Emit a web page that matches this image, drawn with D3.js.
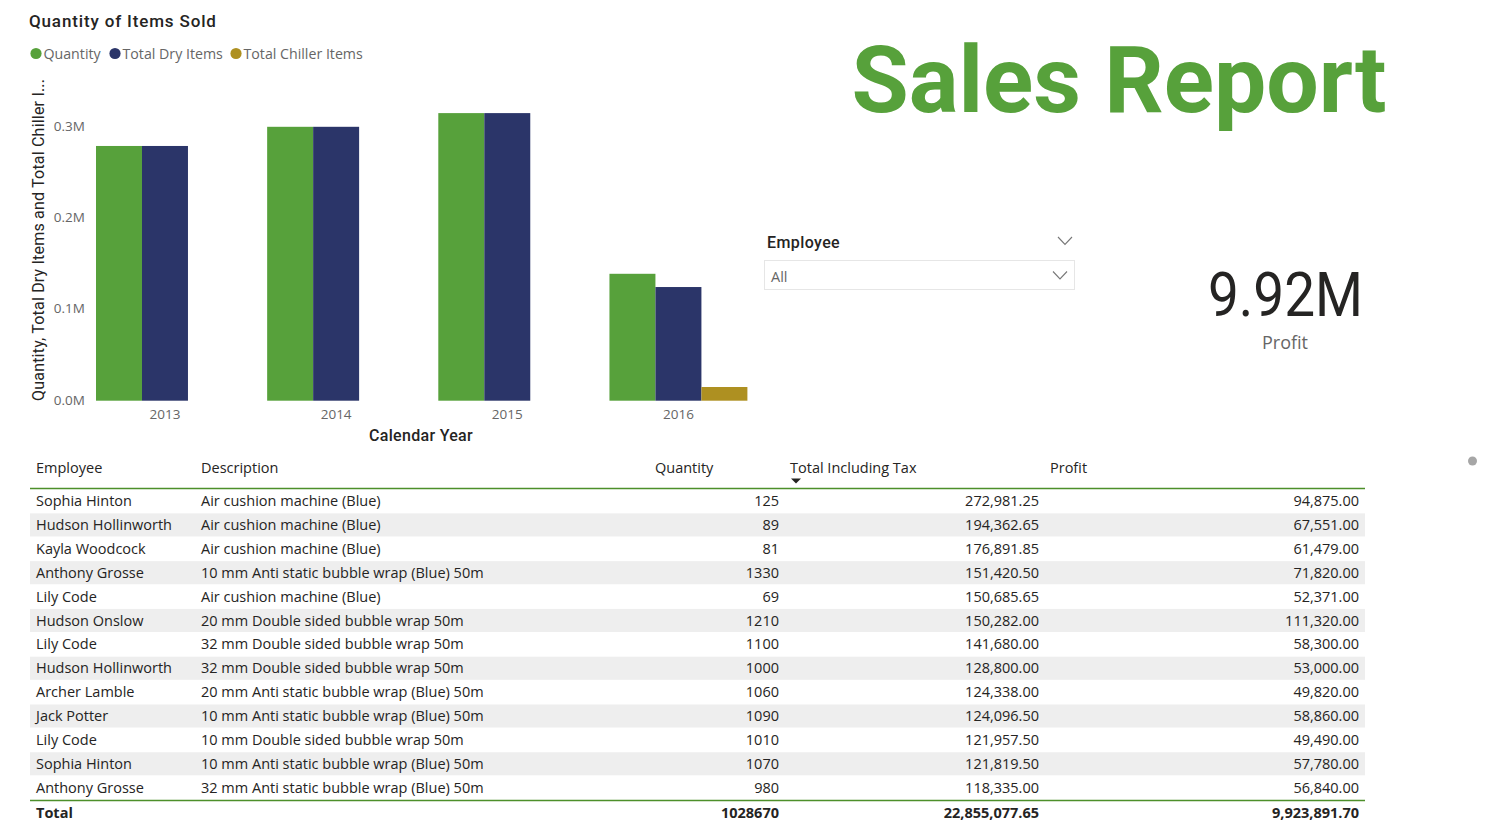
<!DOCTYPE html>
<html>
<head>
<meta charset="utf-8">
<script src="https://cdn.jsdelivr.net/npm/d3@7"></script>
<style>
    html, body { margin: 0; padding: 0; background: #fff; overflow: hidden; }
    svg { display: block; }
    text { font-family: "Open Sans", "Noto Sans", sans-serif; }
    .din { font-family: Roboto, "Noto Sans", sans-serif; }
</style>
</head>
<body>
<div id="report"></div>
<script>
// chart data
const years = ['2013', '2014', '2015', '2016'];
const seriesNames = ['Quantity', 'Total Dry Items', 'Total Chiller Items'];
const quantity = [279000, 300000, 315000, 139000];
const totalDry = [279000, 300000, 315000, 124500];
const totalChiller = [0, 0, 0, 15000];
const yTicks = [0, 100000, 200000, 300000];

// table data
const columns = ['Employee', 'Description', 'Quantity', 'Total Including Tax', 'Profit'];
const employees = ['Sophia Hinton', 'Hudson Hollinworth', 'Kayla Woodcock', 'Anthony Grosse', 'Lily Code', 'Hudson Onslow', 'Lily Code', 'Hudson Hollinworth', 'Archer Lamble', 'Jack Potter', 'Lily Code', 'Sophia Hinton', 'Anthony Grosse'];
const descriptions = ['Air cushion machine (Blue)', 'Air cushion machine (Blue)', 'Air cushion machine (Blue)', '10 mm Anti static bubble wrap (Blue) 50m', 'Air cushion machine (Blue)', '20 mm Double sided bubble wrap 50m', '32 mm Double sided bubble wrap 50m', '32 mm Double sided bubble wrap 50m', '20 mm Anti static bubble wrap (Blue) 50m', '10 mm Anti static bubble wrap (Blue) 50m', '10 mm Double sided bubble wrap 50m', '10 mm Anti static bubble wrap (Blue) 50m', '32 mm Anti static bubble wrap (Blue) 50m'];
const quantities = [125, 89, 81, 1330, 69, 1210, 1100, 1000, 1060, 1090, 1010, 1070, 980];
const totals = [272981.25, 194362.65, 176891.85, 151420.50, 150685.65, 150282.00, 141680.00, 128800.00, 124338.00, 124096.50, 121957.50, 121819.50, 118335.00];
const profits = [94875, 67551, 61479, 71820, 52371, 111320, 58300, 53000, 49820, 58860, 49490, 57780, 56840];
const grandTotal = ['Total', '1028670', '22,855,077.65', '9,923,891.70'];

const colors = ['#57a13b', '#2b3569', '#ae9021'];
const grey = '#666666';
const dark = '#252423';

const svg = d3.select('#report').append('svg')
    .attr('width', 1510)
    .attr('height', 831);

function drawChart() {
    const seriesValues = [quantity, totalDry, totalChiller];
    const xScale = d3.scaleBand()
        .domain(years)
        .range([79.4, 764])
        .paddingInner(0.194)
        .paddingOuter(0.097);
    const seriesScale = d3.scaleBand()
        .domain(seriesNames)
        .range([0, xScale.bandwidth()]);
    const yScale = d3.scaleLinear()
        .domain([0, 300000])
        .range([400.7, 126.8]);

    svg.append('text')
        .attr('class', 'din')
        .attr('x', 29)
        .attr('y', 27)
        .attr('font-size', 17)
        .attr('font-weight', 500)
        .attr('letter-spacing', 0.85)
        .attr('fill', dark)
        .text('Quantity of Items Sold');

    // legend
    const legendX = [36, 115, 236];
    seriesNames.forEach((name, i) => {
        svg.append('circle')
            .attr('cx', legendX[i])
            .attr('cy', 53.5)
            .attr('r', 5.6)
            .attr('fill', colors[i]);
        svg.append('text')
            .attr('x', legendX[i] + 7.5)
            .attr('y', 59)
            .attr('font-size', 14.2)
            .attr('fill', grey)
            .text(name);
    });

    // y axis
    const yAxis = d3.axisLeft(yScale)
        .tickValues(yTicks)
        .tickSize(0)
        .tickPadding(0)
        .tickFormat((d) => `${(d / 1000000).toFixed(1)}M`);
    const yG = svg.append('g')
        .attr('transform', 'translate(85,-1)')
        .call(yAxis);
    yG.select('.domain').remove();
    yG.selectAll('text')
        .attr('font-size', 13.5)
        .attr('fill', grey)
        .attr('font-family', '"Open Sans", sans-serif');

    svg.append('text')
        .attr('class', 'din')
        .attr('transform', 'translate(44,401) rotate(-90)')
        .attr('font-size', 16)
        .attr('font-weight', 400)
        .attr('letter-spacing', 0.2)
        .attr('fill', dark)
        .text('Quantity, Total Dry Items and Total Chiller I...');

    // bars
    seriesNames.forEach((name, i) => {
        svg.append('g')
            .selectAll('rect')
            .data(years.map((year, j) => ({ year, value: seriesValues[i][j] })).filter((d) => d.value > 0))
            .enter()
            .append('rect')
            .attr('x', (d) => xScale(d.year) + seriesScale(name))
            .attr('y', (d) => yScale(d.value))
            .attr('width', seriesScale.bandwidth())
            .attr('height', (d) => yScale(0) - yScale(d.value))
            .attr('fill', colors[i]);
    });

    // x axis
    const xAxis = d3.axisBottom(xScale).tickSize(0).tickPadding(0);
    const xG = svg.append('g')
        .attr('transform', 'translate(0,409)')
        .call(xAxis);
    xG.select('.domain').remove();
    xG.selectAll('text')
        .attr('font-size', 13.5)
        .attr('fill', grey)
        .attr('font-family', '"Open Sans", sans-serif');

    svg.append('text')
        .attr('class', 'din')
        .attr('x', 421)
        .attr('y', 441)
        .attr('text-anchor', 'middle')
        .attr('font-size', 16)
        .attr('font-weight', 500)
        .attr('letter-spacing', 0.3)
        .attr('fill', dark)
        .text('Calendar Year');
}

function drawSidePanels() {
    svg.append('text')
        .attr('class', 'din')
        .attr('x', 1119)
        .attr('y', 112)
        .attr('text-anchor', 'middle')
        .attr('font-size', 93)
        .attr('font-weight', 700)
        .attr('fill', '#57a13b')
        .text('Sales Report');

    svg.append('text')
        .attr('class', 'din')
        .attr('x', 767)
        .attr('y', 248)
        .attr('font-size', 16)
        .attr('font-weight', 500)
        .attr('letter-spacing', 0.4)
        .attr('fill', dark)
        .text('Employee');

    const chevron = (cx, cy) => svg.append('path')
        .attr('d', d3.line()([[cx - 7, cy - 4], [cx, cy + 3.5], [cx + 7, cy - 4]]))
        .attr('fill', 'none')
        .attr('stroke', '#777777')
        .attr('stroke-width', 1.1);
    chevron(1065, 241);
    chevron(1060, 275.5);

    svg.append('rect')
        .attr('x', 764.5)
        .attr('y', 260.5)
        .attr('width', 310)
        .attr('height', 29)
        .attr('fill', 'none')
        .attr('stroke', '#e6e6e6');
    svg.append('text')
        .attr('x', 771)
        .attr('y', 282)
        .attr('font-size', 14.5)
        .attr('fill', grey)
        .text('All');

    svg.append('text')
        .attr('class', 'din')
        .attr('x', 1208)
        .attr('y', 316)
        .attr('font-size', 62)
        .attr('textLength', 155)
        .attr('lengthAdjust', 'spacingAndGlyphs')
        .attr('fill', dark)
        .text('9.92M');
    svg.append('text')
        .attr('x', 1285)
        .attr('y', 349)
        .attr('text-anchor', 'middle')
        .attr('font-size', 18)
        .attr('fill', grey)
        .text('Profit');

    svg.append('circle')
        .attr('cx', 1472.5)
        .attr('cy', 461)
        .attr('r', 4.5)
        .attr('fill', '#a6a6a6');
}

function drawTable() {
    const fmt = d3.format(',.2f');
    const left = 30;
    const right = 1365;
    const rowY = d3.scaleLinear().domain([0, employees.length]).range([489.5, 800]);
    const rowH = rowY(1) - rowY(0);
    const fontSize = 14.5;

    const headerX = [36, 201, 655, 790, 1050];
    columns.forEach((c, i) => {
        svg.append('text')
            .attr('x', headerX[i])
            .attr('y', 473)
            .attr('font-size', fontSize)
            .attr('fill', dark)
            .text(c);
    });
    // sort arrow on Total Including Tax
    svg.append('path')
        .attr('d', 'M791,478.5L801,478.5L796,483.5Z')
        .attr('fill', dark);

    svg.append('g')
        .selectAll('rect')
        .data(employees.map((d, i) => i).filter((i) => i % 2 === 1))
        .enter()
        .append('rect')
        .attr('x', left)
        .attr('y', (i) => rowY(i))
        .attr('width', right - left)
        .attr('height', rowH - 0.8)
        .attr('fill', '#eeeeee');

    const rows = svg.append('g')
        .selectAll('g')
        .data(employees.map((d, i) => i))
        .enter()
        .append('g')
        .attr('transform', (i) => `translate(0,${rowY(i) + rowH / 2 + 4.7})`)
        .attr('font-size', fontSize)
        .attr('fill', dark);
    rows.append('text').attr('x', 36).text((i) => employees[i]);
    rows.append('text').attr('x', 201).text((i) => descriptions[i]);
    rows.append('text').attr('x', 779).attr('text-anchor', 'end').text((i) => quantities[i]);
    rows.append('text').attr('x', 1039).attr('text-anchor', 'end').text((i) => fmt(totals[i]));
    rows.append('text').attr('x', 1359).attr('text-anchor', 'end').text((i) => fmt(profits[i]));

    [488.5, 800.5].forEach((y) => {
        svg.append('line')
            .attr('x1', left)
            .attr('x2', right)
            .attr('y1', y)
            .attr('y2', y)
            .attr('stroke', '#4d8f2a')
            .attr('stroke-width', 1.6);
    });

    const totalRow = svg.append('g')
        .attr('font-size', fontSize)
        .attr('font-weight', 700)
        .attr('fill', dark);
    const totalX = [36, 779, 1039, 1359];
    grandTotal.forEach((t, i) => {
        totalRow.append('text')
            .attr('x', totalX[i])
            .attr('y', 818)
            .attr('text-anchor', i === 0 ? 'start' : 'end')
            .text(t);
    });
}

drawChart();
drawSidePanels();
drawTable();
</script>
</body>
</html>
